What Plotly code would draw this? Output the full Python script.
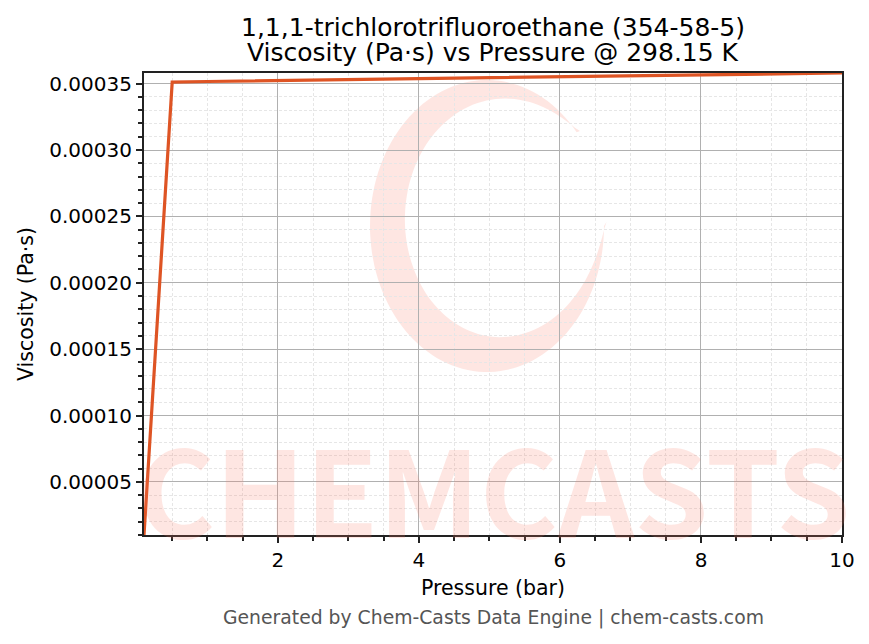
import numpy as np
import plotly.graph_objects as go

# Viscosity of 1,1,1-trichlorotrifluoroethane at 298.15 K
pressure_bar = [0.1, 0.5, 1, 2, 3, 4, 5, 6, 7, 8, 9, 10]
viscosity_pas = [0.0000100, 0.0003512, 0.0003516, 0.0003523, 0.0003530, 0.0003537,
                 0.0003544, 0.0003551, 0.0003558, 0.0003566, 0.0003573, 0.0003580]

title_lines = ['1,1,1-trichlorotrifluoroethane (354-58-5)',
               'Viscosity (Pa·s) vs Pressure @ 298.15 K']
x_label = 'Pressure (bar)'
y_label = 'Viscosity (Pa·s)'
footer = 'Generated by Chem-Casts Data Engine | chem-casts.com'
watermark = 'CHEMCASTS'

# page body has an 8px margin, so the figure is a bit smaller than the window
PAGE = 8
W, H = 869 - 2 * PAGE, 644 - 2 * PAGE
# plot box in window pixels: x 144..842, y 73..535
X0, X1, Y0, Y1 = 144, 842, 73, 535
L, T = X0 - PAGE, Y0 - PAGE
R, B = W - L - (X1 - X0), H - T - (Y1 - Y0)
FONT = 'DejaVu Sans'
LINE_COLOR = '#DE5424'
WM_COLOR = 'rgba(250, 120, 100, 0.19)'


def px_to_paper(px, py):
    # window pixel -> paper coords of the plot box
    return (px - X0) / (X1 - X0), (Y1 - py) / (Y1 - Y0)


fig = go.Figure()
fig.add_trace(go.Scatter(x=pressure_bar, y=viscosity_pas, mode='lines',
                         line=dict(color=LINE_COLOR, width=3.2),
                         showlegend=False, hoverinfo='x+y'))

# brush-stroke "C" logo of the watermark
ang = np.radians(np.linspace(40, 360, 120))
outer = [(487 + 117 * np.cos(a), 226 - 146 * np.sin(a)) for a in ang]
inner = []
for a in ang[::-1]:
    t = (np.degrees(a) - 40) / 320
    k = 0.97 - 0.22 * np.sin(np.pi * t) ** 0.7
    inner.append((487 + 117 * k * np.cos(a) + 6, 226 - 146 * k * np.sin(a) - 4))
pts = [px_to_paper(*p) for p in outer + inner]
path = 'M ' + ' L '.join(f'{x:.4f},{y:.4f}' for x, y in pts) + ' Z'
fig.add_shape(type='path', path=path, xref='paper', yref='paper',
              fillcolor=WM_COLOR, line=dict(width=0), layer='below')

wx, wy = px_to_paper(493, 486)
fig.add_annotation(text=f'<b>{watermark}</b>', x=wx, y=wy, xref='paper', yref='paper',
                   showarrow=False, xanchor='center', yanchor='middle',
                   font=dict(family='Noto Sans CJK SC', size=119, color=WM_COLOR))

# second title line and footer
tx, ty = px_to_paper(493, 53)
fig.add_annotation(text=title_lines[1], x=tx, y=ty, xref='paper', yref='paper',
                   showarrow=False, xanchor='center', yanchor='middle',
                   font=dict(family=FONT, size=25, color='#000000'))
fx, fy = px_to_paper(493, 618)
fig.add_annotation(text=footer, x=fx, y=fy, xref='paper', yref='paper',
                   showarrow=False, xanchor='center', yanchor='middle',
                   font=dict(family=FONT, size=18.8, color='#555555'))

axis_common = dict(
    showline=True, linecolor='#222222', linewidth=2, mirror=True,
    ticks='outside', ticklen=6, tickwidth=1.6, tickcolor='#222222',
    showgrid=True, gridcolor='#b0b0b0', gridwidth=1,
    zeroline=False, automargin=False,
    tickfont=dict(family=FONT, size=20, color='#000000'),
)
minor_common = dict(ticks='outside', ticklen=4, tickcolor='#222222',
                    showgrid=True, gridcolor='#e6e6e6', griddash='3px,2px', gridwidth=0.7)

fig.update_xaxes(
    range=[min(pressure_bar), max(pressure_bar)], tick0=0, dtick=2,
    title=dict(text=x_label, font=dict(family=FONT, size=20.5, color='#000000'), standoff=10),
    minor=dict(dtick=0.5, **minor_common),
    **axis_common)
fig.update_yaxes(
    range=[min(viscosity_pas), max(viscosity_pas)], tick0=0, dtick=0.00005, tickformat='.5f',
    title=dict(text=y_label, font=dict(family=FONT, size=20.5, color='#000000'), standoff=10),
    minor=dict(dtick=0.00001, **minor_common),
    **axis_common)

fig.update_layout(
    width=W, height=H,
    margin=dict(l=L, r=R, t=T, b=B),
    paper_bgcolor='white', plot_bgcolor='white',
    font=dict(family=FONT, color='#000000'),
    title=dict(text=title_lines[0], x=(493 - PAGE) / W, xanchor='center',
               y=1 - (27 - PAGE) / H, yanchor='middle',
               font=dict(family=FONT, size=25, color='#000000')),
)

fig.write_html('out.html')
